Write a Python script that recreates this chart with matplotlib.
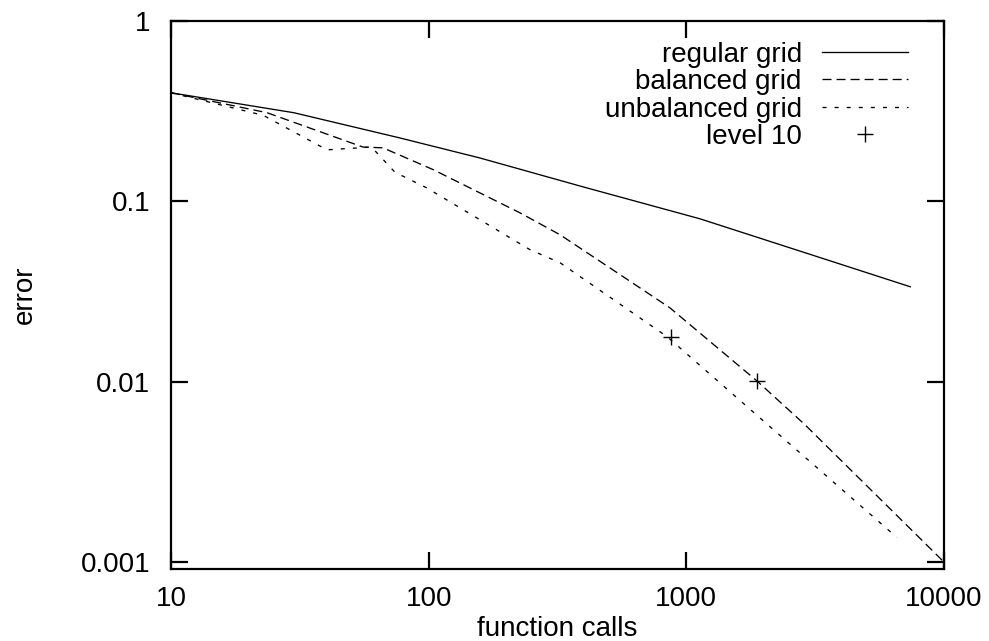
import matplotlib
matplotlib.use("Agg")
import matplotlib.pyplot as plt
from matplotlib.ticker import FixedLocator, FixedFormatter, NullLocator

plt.rcParams["font.family"] = ["Liberation Sans", "DejaVu Sans"]
plt.rcParams["font.size"] = 20
plt.rcParams["lines.scale_dashes"] = False

# values (function calls vs error)
regular_calls = [10, 30, 77, 158, 400, 1130, 3000, 7400]
regular_err = [0.40, 0.31, 0.225, 0.174, 0.120, 0.080, 0.051, 0.0336]

balanced_calls = [10, 23.6, 55.6, 66.5, 104, 226, 324, 863, 1879, 2884, 10000]
balanced_err = [0.40, 0.31, 0.20, 0.198, 0.150, 0.0864, 0.0652, 0.0257, 0.0101, 0.00578, 0.0010]

unbalanced_calls = [10, 22.8, 40.3, 60, 74, 98, 247, 324, 841, 1930, 6560]
unbalanced_err = [0.40, 0.30, 0.193, 0.20, 0.145, 0.119, 0.054, 0.0456, 0.0178, 0.0063, 0.00137]

level10_calls = [871, 1879]
level10_err = [0.0178, 0.0101]

xticks = [10, 100, 1000, 10000]
xticklabels = ["10", "100", "1000", "10000"]
yticks = [0.001, 0.01, 0.1, 1]
yticklabels = ["0.001", "0.01", "0.1", "1"]

fig = plt.figure(figsize=(9.89, 6.41), dpi=100)
ax = fig.add_axes([171 / 989, 72 / 641, 773 / 989, 548 / 641])

lw = 0.95
ax.plot(regular_calls, regular_err, color="k", lw=lw, label="regular grid")
ax.plot(balanced_calls, balanced_err, color="k", lw=lw,
        dashes=(6.5, 3.6), label="balanced grid")
ax.plot(unbalanced_calls, unbalanced_err, color="k", lw=lw,
        dashes=(2.9, 5.8), label="unbalanced grid")
ax.plot(level10_calls, level10_err, ls="none", marker="+", ms=12,
        mew=1.0, color="k", label="level 10")

ax.set_xscale("log")
ax.set_yscale("log")
ax.set_xlim(10, 10000)
ax.set_ylim(0.000915, 1)

ax.xaxis.set_major_locator(FixedLocator(xticks))
ax.xaxis.set_major_formatter(FixedFormatter(xticklabels))
ax.yaxis.set_major_locator(FixedLocator(yticks))
ax.yaxis.set_major_formatter(FixedFormatter(yticklabels))
ax.xaxis.set_minor_locator(NullLocator())
ax.yaxis.set_minor_locator(NullLocator())

ax.tick_params(which="major", direction="in", length=12, width=1.6,
               top=True, right=True, labelsize=20)
ax.tick_params(axis="x", pad=12)
ax.tick_params(axis="y", pad=15)
for spine in ax.spines.values():
    spine.set_linewidth(1.6)

ax.set_xlabel("function calls", fontsize=20, labelpad=3)
ax.set_ylabel("error", fontsize=20)
ax.yaxis.set_label_coords(-0.172, 0.5)

ax.legend(loc="upper right", bbox_to_anchor=(0.9534, 0.962), frameon=False,
          markerfirst=False, handlelength=3.1, handletextpad=0.72,
          labelspacing=0.05, borderpad=0, borderaxespad=0, fontsize=20)

fig.savefig("out.png", dpi=100)
